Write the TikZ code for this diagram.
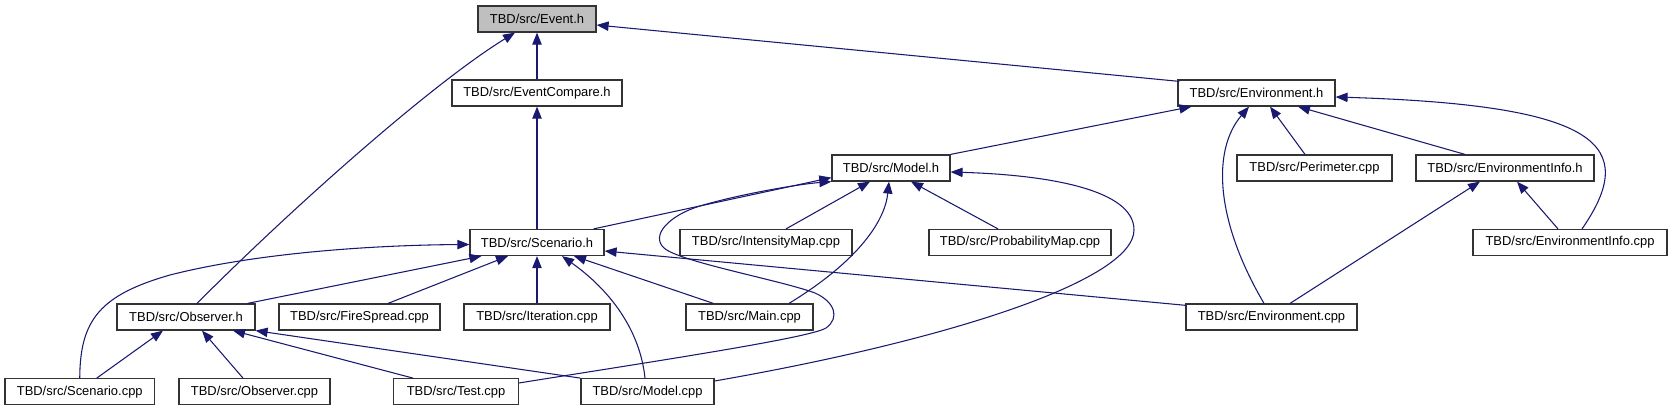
\documentclass[tikz,border=0pt]{standalone}
\usepackage{fontspec}
\setmainfont{Liberation Sans}
\usepackage{tikz}
\usetikzlibrary{calc,arrows.meta}
\definecolor{depblue}{HTML}{191970}
\definecolor{boxline}{HTML}{333333}
\definecolor{focus}{HTML}{BFBFBF}

\begin{document}
\begin{tikzpicture}[x=0.75pt, y=-0.75pt,
    file/.style={draw=boxline, line width=0.9pt, fill=white, inner sep=0pt,
      minimum height=19.5pt, font=\fontsize{9.7}{11}\selectfont},
    bw/.style={minimum width=#1*0.75pt},
    dep/.style={draw=depblue, line width=0.8pt, -{Triangle[length=9pt,width=7pt]}}]
  \useasboundingbox (0,0) rectangle (1671,411);

  \node[file, bw=118, fill=focus] (eventh) at (537,19) {TBD/src/Event.h};
  \node[file, bw=170] (eventcmp) at (537,93) {TBD/src/EventCompare.h};
  \node[file, bw=157] (envh) at (1256.5,93) {TBD/src/Environment.h};
  \node[file, bw=118] (modelh) at (891,168) {TBD/src/Model.h};
  \node[file, bw=155] (perimcpp) at (1314.5,168) {TBD/src/Perimeter.cpp};
  \node[file, bw=178] (envinfoh) at (1505,168) {TBD/src/EnvironmentInfo.h};
  \node[file, bw=134] (scenh) at (537,242.5) {TBD/src/Scenario.h};
  \node[file, bw=172] (intmap) at (766,242.5) {TBD/src/IntensityMap.cpp};
  \node[file, bw=182] (probmap) at (1020,242.5) {TBD/src/ProbabilityMap.cpp};
  \node[file, bw=194] (envinfocpp) at (1570,242.5) {TBD/src/EnvironmentInfo.cpp};
  \node[file, bw=138] (obsh) at (186,317) {TBD/src/Observer.h};
  \node[file, bw=161] (firespread) at (359.5,317) {TBD/src/FireSpread.cpp};
  \node[file, bw=146] (iteration) at (537,317) {TBD/src/Iteration.cpp};
  \node[file, bw=127] (maincpp) at (749.5,317) {TBD/src/Main.cpp};
  \node[file, bw=171] (envcpp) at (1271.5,317) {TBD/src/Environment.cpp};
  \node[file, bw=149.5] (scencpp) at (79.75,391.7) {TBD/src/Scenario.cpp};
  \node[file, bw=151] (obscpp) at (254.5,391.7) {TBD/src/Observer.cpp};
  \node[file, bw=124.5] (testcpp) at (456,391.7) {TBD/src/Test.cpp};
  \node[file, bw=133] (modelcpp) at (647.5,391.7) {TBD/src/Model.cpp};

  % includes of Event.h and Environment.h
  \draw[dep] (eventcmp.north) -- (eventh.south);
  \draw[dep] ($(envh.north west)+(2,2)$) -- ($(eventh.east)+(0,6)$);
  \draw[dep] ($(obsh.north)+(11,0)$) .. controls (290,210) and (430,85) .. ($(eventh.south)+(-22,0)$);
  \draw[dep] (scenh.north) -- (eventcmp.south);
  \draw[dep] (modelh.north east) -- ($(envh.south west)+(14,0)$);
  \draw[dep] ($(perimcpp.north)+(-9.5,0)$) -- ($(envh.south)+(13.5,0)$);
  \draw[dep] ($(envinfoh.north)+(-40,0)$) -- ($(envh.south)+(41.5,0)$);
  \draw[dep] ($(envinfocpp.north)+(12,0)$) .. controls (1640,145) and (1600,105) .. ($(envh.east)+(0,4)$);
  \draw[dep] ($(envcpp.north)+(-7.5,0)$) .. controls (1215,220) and (1212,150) .. ($(envh.south)+(-7.5,0)$);
  \draw[dep] ($(envinfocpp.north)+(-12,0)$) -- ($(envinfoh.south)+(12,0)$);
  \draw[dep] ($(envcpp.north)+(18.5,0)$) -- ($(envinfoh.south)+(-25,0)$);

  % includes of Model.h
  \draw[dep] ($(scenh.north east)+(-11,0)$) -- ($(modelh.south west)+(0,-4)$);
  \draw[dep] ($(intmap.north)+(20,0)$) -- ($(modelh.south)+(-21,0)$);
  \draw[dep] ($(probmap.north)+(-22,0)$) -- ($(modelh.south)+(20,0)$);
  \draw[dep] ($(maincpp.north)+(39.5,0)$) .. controls (860,260) and (885,220) .. ($(modelh.south)+(-2,0)$);
  \draw[dep] ($(testcpp.east)+(0,-8.7)$) .. controls (650,362) and (810,338) .. (826,328)
    .. controls (840,318) and (835,302) .. (815,293) .. controls (780,280) and (680,262) .. (664,248)
    .. controls (650,235) and (670,215) .. (700,206) .. controls (740,194) and (800,184) .. (modelh.south west);
  \draw[dep] ($(modelcpp.east)+(0,-10.7)$) .. controls (950,340) and (1134,280) .. (1134,230)
    .. controls (1134,190) and (1050,175) .. ($(modelh.east)+(0,4)$);

  % includes of Scenario.h
  \draw[dep] ($(modelcpp.north)+(-2.5,0)$) .. controls (640,330) and (610,290) .. ($(scenh.south)+(25,0)$);
  \draw[dep] ($(envcpp.north west)+(1,2)$) -- ($(scenh.east)+(0,8.5)$);
  \draw[dep] ($(maincpp.north west)+(28,0)$) -- ($(scenh.south)+(37,0)$);
  \draw[dep] (iteration.north) -- (scenh.south);
  \draw[dep] ($(firespread.north)+(28.5,0)$) -- ($(scenh.south)+(-29,0)$);
  \draw[dep] ($(obsh.north east)+(-8,0)$) -- ($(scenh.south west)+(12,0)$);
  \draw[dep] (scencpp.north) .. controls (80,320) and (100,295) .. (170,275)
    .. controls (260,252) and (380,245) .. ($(scenh.west)+(0,2)$);

  % includes of Observer.h
  \draw[dep] ($(scencpp.north)+(17,0)$) -- ($(obsh.south)+(-23,0)$);
  \draw[dep] ($(obscpp.north)+(-11.5,0)$) -- ($(obsh.south)+(16,0)$);
  \draw[dep] ($(testcpp.north)+(-43,0)$) -- ($(obsh.south)+(47,0)$);
  \draw[dep] (modelcpp.north west) -- (obsh.south east);
\end{tikzpicture}
\end{document}
